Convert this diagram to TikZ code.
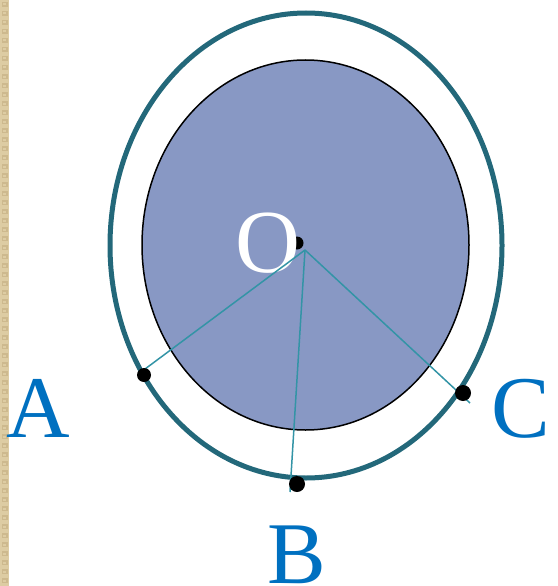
\documentclass[tikz,border=0pt]{standalone}
\usepackage{fontspec}
\setmainfont{Liberation Serif}
\definecolor{outerc}{HTML}{23687A}
\definecolor{innerc}{HTML}{8898C4}
\definecolor{linec}{HTML}{3394A6}
\definecolor{labc}{HTML}{0070C0}
\definecolor{barc}{HTML}{DDCCA3}
\definecolor{bard}{HTML}{CDB98E}
\tikzset{
  dot/.style={circle,fill=black,inner sep=0pt,minimum size=#1},
  lab/.style={text=labc,font=\fontsize{88}{88}\selectfont,inner sep=0pt,text depth=0pt},
  spoke/.style={draw=linec,line width=1.5pt}
}
\begin{document}
\begin{tikzpicture}[x=1pt,y=-1pt]
\useasboundingbox (0,0) rectangle (557,586);
% textured bar
\fill[barc] (0,0) rectangle (9,586);
\foreach \k in {0,...,65}{
  \fill[bard] (1.5,{\k*9+2}) rectangle (7.5,{\k*9+7});
  \fill[barc] (3,{\k*9+3.5}) rectangle (6,{\k*9+5.5});
}
% ellipses
\draw[outerc,line width=5pt] (306,245.5) ellipse [x radius=196pt, y radius=232.5pt];
\draw[black,fill=innerc,line width=1.5pt] (305.5,245) ellipse [x radius=163.5pt, y radius=185pt];
% center
\coordinate (O) at (305,250);
\node[dot=13pt] (Od) at (297,243) {};
\node[text=white,font=\fontsize{90}{90}\selectfont,inner sep=0pt] (Ol) at (268,243) {O};
% endpoints
\coordinate (Ae) at (141,372);
\coordinate (Be) at (290,492);
\coordinate (Ce) at (470,403);
\draw[spoke] (O) -- (Ae);
\draw[spoke] (O) -- (Be);
\draw[spoke] (O) -- (Ce);
\node[dot=14pt] (Ad) at (144,375) {};
\node[dot=16pt] (Bd) at (297,484) {};
\node[dot=16pt] (Cd) at (463,393) {};
% labels
\node[lab,anchor=base] (A) at (38,437) {A};
\node[lab,anchor=base] (B) at (297,583) {B};
\node[lab,anchor=base] (C) at (521,437) {C};
\end{tikzpicture}
\end{document}
